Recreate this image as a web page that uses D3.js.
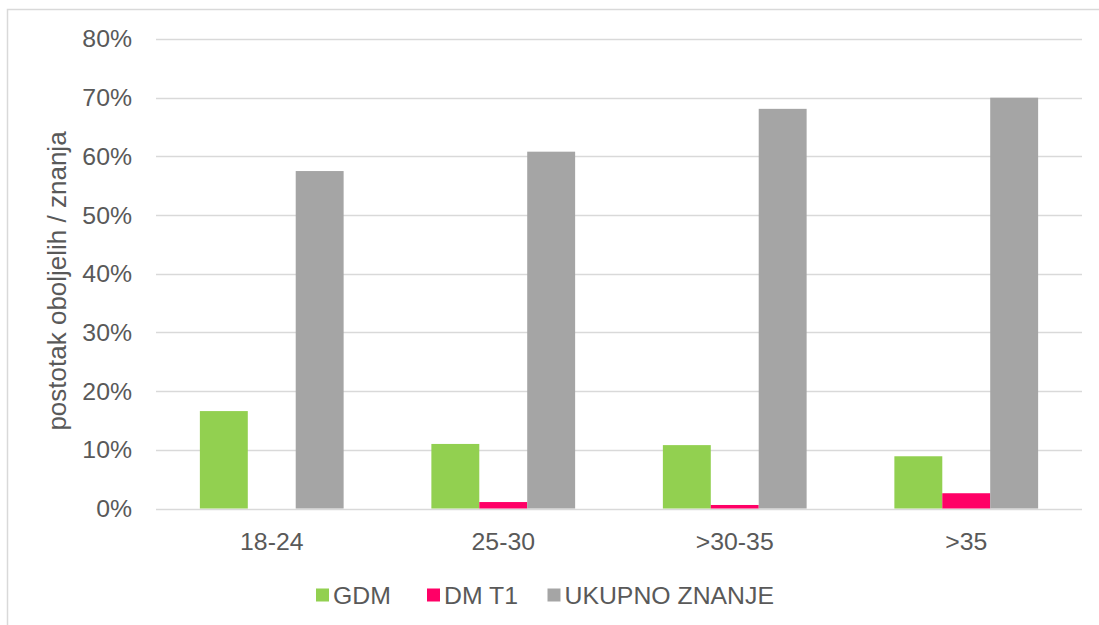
<!DOCTYPE html>
<html>
<head>
<meta charset="utf-8">
<script src="https://cdn.jsdelivr.net/npm/d3@7"></script>
<style>
    body { margin: 0; background: #fff; }
    svg { display: block; font-family: "Liberation Sans", Arial, sans-serif; }
</style>
</head>
<body>
<div id="chart"></div>
<script>
// data
const categories = ['18-24', '25-30', '>30-35', '>35'];
const seriesNames = ['GDM', 'DM T1', 'UKUPNO ZNANJE'];
const gdm = [0.166, 0.110, 0.108, 0.089];
const dmT1 = [0, 0.011, 0.006, 0.026];
const ukupno = [0.575, 0.608, 0.681, 0.700];
const yTicks = [0, 0.1, 0.2, 0.3, 0.4, 0.5, 0.6, 0.7, 0.8];
const colors = ['#92d050', '#ff0066', '#a5a5a5'];

const width = 1099, height = 625;
const margins = {top: 39, right: 17, bottom: 116.5, left: 156};
const graphWidth = width - margins.left - margins.right;
const graphHeight = height - margins.top - margins.bottom;
const fontSize = 24.8;

const svg = d3.select('#chart')
    .append('svg')
    .attr('width', width)
    .attr('height', height);

// outer chart frame (only top and left visible in reference)
svg.append('path')
    .attr('d', `M7.5,${height} V9.5 H${width}`)
    .attr('fill', 'none')
    .attr('stroke', '#d9d9d9')
    .attr('stroke-width', 1.5);

const graph = svg.append('g')
    .attr('transform', `translate(${margins.left}, ${margins.top})`);

const xScale = d3.scaleBand()
    .domain(categories)
    .range([0, graphWidth])
    .paddingInner(0.379)
    .paddingOuter(0.1895);

const x1 = d3.scaleBand()
    .domain(seriesNames)
    .range([0, xScale.bandwidth()]);

const yScale = d3.scaleLinear()
    .domain([0, 0.8])
    .range([graphHeight, 0]);

// gridlines
graph.append('g')
    .selectAll('line')
    .data(yTicks)
    .enter()
    .append('line')
    .attr('x1', 0)
    .attr('x2', graphWidth)
    .attr('y1', d => Math.round(yScale(d)) + 0.5)
    .attr('y2', d => Math.round(yScale(d)) + 0.5)
    .attr('stroke', '#d9d9d9')
    .attr('stroke-width', 1.5);

// y axis labels
const yAxis = graph.append('g')
    .call(d3.axisLeft(yScale).tickValues(yTicks).tickFormat(d3.format('.0%')).tickSize(0).tickPadding(24));
yAxis.select('.domain').remove();
yAxis.selectAll('text')
    .attr('fill', '#595959')
    .style('font-size', fontSize + 'px');

// x axis labels
const xAxis = graph.append('g')
    .attr('transform', `translate(0, ${graphHeight})`)
    .call(d3.axisBottom(xScale).tickSize(0).tickPadding(24));
xAxis.select('.domain').remove();
xAxis.selectAll('text')
    .attr('fill', '#595959')
    .style('font-size', fontSize + 'px');

const series = [gdm, dmT1, ukupno];
const rows = [];
series.forEach((values, s) => {
    values.forEach((v, i) => rows.push({cat: categories[i], name: seriesNames[s], color: colors[s], value: v}));
});

graph.append('g')
    .selectAll('rect')
    .data(rows)
    .enter()
    .append('rect')
    .attr('x', d => xScale(d.cat) + x1(d.name))
    .attr('y', d => yScale(d.value))
    .attr('width', x1.bandwidth())
    .attr('height', d => graphHeight - yScale(d.value))
    .attr('fill', d => d.color);

// y axis title
svg.append('text')
    .attr('transform', 'translate(66, 281) rotate(-90)')
    .attr('text-anchor', 'middle')
    .attr('fill', '#595959')
    .style('font-size', '26px')
    .text('postotak oboljelih / znanja');

// legend
const legendItems = [
    {name: seriesNames[0], color: colors[0], x: 316},
    {name: seriesNames[1], color: colors[1], x: 427},
    {name: seriesNames[2], color: colors[2], x: 547.5}
];
const legend = svg.append('g');
legendItems.forEach(item => {
    legend.append('rect')
        .attr('x', item.x)
        .attr('y', 588.5)
        .attr('width', 13)
        .attr('height', 13)
        .attr('fill', item.color);
    legend.append('text')
        .attr('x', item.x + 17)
        .attr('y', 604)
        .attr('fill', '#595959')
        .style('font-size', fontSize + 'px')
        .text(item.name);
});
</script>
</body>
</html>
